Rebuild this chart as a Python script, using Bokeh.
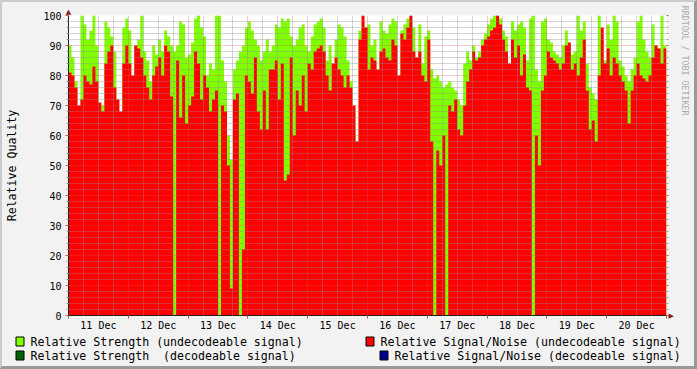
from bokeh.plotting import figure
from bokeh.layouts import column, row
from bokeh.models import FixedTicker, LinearAxis, Range1d, ColumnDataSource
from bokeh.core.properties import value
from bokeh.embed import file_html
from bokeh.resources import INLINE

# ---- data: 200 consolidated samples (72 min each) from 11 Dec 00:00 to 21 Dec 00:00
BIN_HOURS = 1.2

strength = [
    90, 86, 78, 62, 100, 97, 92, 95, 100, 90, 63, 70, 98, 96, 93, 88, 72, 50, 96, 99,
    95, 70, 90, 92, 100, 88, 85, 78, 90, 87, 92, 88, 95,
    93, 90, 88, 90, 98, 97, 86, 87, 91, 99, 100, 96, 93, 80, 84, 82, 100, 100, 85, 78,
    60, 52, 82, 85, 88, 90, 96, 98, 95, 92, 90, 85, 88,
    92, 88, 90, 97, 96, 99, 98, 99, 93, 90, 92, 96, 97, 90, 88, 93, 97, 98, 99, 96,
    85, 90, 72, 92, 97, 96, 93, 85, 78, 62, 57, 95, 98, 96,
    97, 90, 92, 80, 98, 95, 94, 97, 99, 98, 72, 95, 97, 99, 98, 96, 64, 97, 84, 93,
    95, 82, 79, 80, 78, 76, 77, 78, 76, 75, 72, 70, 84,
    88, 85, 90, 86, 88, 92, 94, 97, 99, 100, 100, 99, 95, 93, 78, 98, 95, 97, 98, 96,
    85, 99, 100, 82, 78, 98, 99, 92, 91, 88, 87, 86, 90,
    95, 90, 87, 88, 100, 95, 98, 84, 76, 74, 72, 100, 92, 85, 97, 92, 100, 98, 85, 83,
    80, 78, 82, 86, 98, 100, 92, 88, 86, 97, 90, 89, 100, 90,
]

snr = [
    81, 80, 76, 70, 72, 80, 78, 77, 83, 78, 71, 68, 84, 88, 90, 76, 72, 68, 84, 90,
    84, 80, 90, 89, 86, 80, 76, 72, 80, 83, 86, 80, 90,
    88, 73, 0, 85, 66, 80, 64, 70, 73, 88, 84, 72, 80, 76, 68, 72, 75, 0, 70, 68,
    50, 9, 72, 74, 0, 22, 80, 78, 74, 86, 68, 62, 75,
    62, 82, 82, 85, 72, 84, 45, 47, 86, 60, 75, 70, 80, 68, 84, 82, 88, 89, 90, 88,
    80, 75, 84, 86, 82, 80, 76, 80, 76, 70, 58, 92, 100, 96,
    82, 86, 85, 82, 88, 89, 86, 85, 92, 90, 80, 94, 92, 96, 100, 88, 86, 88, 80, 78,
    92, 58, 0, 55, 50, 60, 0, 70, 68, 72, 62, 60, 70,
    78, 82, 88, 85, 86, 90, 92, 93, 95, 96, 100, 97, 92, 88, 84, 92, 86, 90, 80, 87,
    76, 75, 0, 60, 50, 75, 80, 88, 86, 85, 84, 82, 84,
    90, 91, 82, 84, 80, 86, 92, 75, 62, 65, 58, 80, 96, 84, 89, 80, 86, 84, 80, 78,
    75, 64, 75, 80, 84, 80, 79, 78, 80, 86, 90, 89, 84, 89,
]

day_labels = ["11 Dec", "12 Dec", "13 Dec", "14 Dec", "15 Dec",
              "16 Dec", "17 Dec", "18 Dec", "19 Dec", "20 Dec"]
y_ticks = list(range(0, 101, 10))
y_minor = [v for v in range(0, 101, 2) if v % 10]

legend_labels = ["Relative Strength (undecodeable signal)",
                 "Relative Signal/Noise (undecodeable signal)",
                 "Relative Strength\u00A0 (decodeable signal)",
                 "Relative Signal/Noise (decodeable signal)"]
legend_colors = ["#80FF00", "#FF0000", "#006400", "#000090"]

y_title = "Relative Quality"
watermark = "RRDTOOL / TOBI OETIKER"

FONT = "DejaVu Sans Mono"
BG = "#F2F2F2"
LIGHT = "#CBCBCB"
DARK = "#999999"
INNER_W = 692          # page width minus the 3-D border (2 px left, 3 px right)
MAIN_H = 331
LEG_H = 33

n = len(strength)
x_edges = [i * BIN_HOURS for i in range(n + 1)]
total_hours = n * BIN_HOURS

# ================= main chart =================
p = figure(width=INNER_W, height=MAIN_H, output_backend="svg", toolbar_location=None,
           x_range=Range1d(0, total_hours), y_range=Range1d(0, 100),
           min_border_left=64, min_border_right=28, min_border_top=13, min_border_bottom=18)
p.background_fill_color = "white"
p.border_fill_color = BG
p.outline_line_color = None

zeros = [0] * (n + 1)
p.varea_step(x=x_edges, y1=zeros, y2=strength + [strength[-1]], step_mode="after",
             fill_color=legend_colors[0])
p.varea_step(x=x_edges, y1=zeros, y2=snr + [snr[-1]], step_mode="after",
             fill_color=legend_colors[1])

noons = [12 + 24 * k for k in range(len(day_labels))]
midnights = [24 * k for k in range(len(day_labels) + 1)]

xa = p.xaxis[0]
xa.ticker = FixedTicker(ticks=noons, minor_ticks=midnights)
xa.major_label_overrides = {h: lab for h, lab in zip(noons, day_labels)}
xa.major_tick_line_color = None
xa.major_tick_out = 0
xa.major_tick_in = 0
xa.minor_tick_out = 3
xa.minor_tick_in = 0
xa.minor_tick_line_color = "#B05050"
xa.major_label_standoff = 1

yt = FixedTicker(ticks=y_ticks, minor_ticks=y_minor)
ya = p.yaxis[0]
ya.ticker = yt
ya.major_tick_out = 3
ya.major_tick_in = 0
ya.minor_tick_out = 2
ya.minor_tick_in = 0
ya.major_tick_line_color = "#C06060"
ya.minor_tick_line_color = "#A0A0A0"
ya.major_label_standoff = 4
ya.axis_label = y_title
ya.axis_label_text_font = FONT
ya.axis_label_text_font_size = "11.6px"
ya.axis_label_text_font_style = "normal"
ya.axis_label_text_color = "black"
ya.axis_label_standoff = 21

for ax in (xa, ya):
    ax.axis_line_color = "#1F1F1F"
    ax.major_label_text_font = FONT
    ax.major_label_text_font_size = "10px"
    ax.major_label_text_color = "black"

# right axis: grid-tick stubs, the x-axis arrow head and the vertical watermark
pad = "\u00A0" * 42
ra = LinearAxis(ticker=yt, axis_line_color=None,
                major_tick_out=2, major_tick_in=0, minor_tick_out=2, minor_tick_in=0,
                major_tick_line_color="#C06060", minor_tick_line_color="#A0A0A0",
                major_label_overrides={v: ("\u25B6" if v == 0 else "") for v in y_ticks},
                major_label_text_font="DejaVu Sans", major_label_text_font_size="7px",
                major_label_text_color="#802020", major_label_standoff=0,
                axis_label=watermark + pad, axis_label_text_font=FONT,
                axis_label_text_font_size="8.3px", axis_label_text_font_style="normal",
                axis_label_text_color="#AAAAAA", axis_label_standoff=3)
p.add_layout(ra, "right")

# top axis: only the y-axis arrow head
ta = LinearAxis(ticker=FixedTicker(ticks=[0]), axis_line_color=None,
                major_tick_line_color=None, major_tick_out=0, major_tick_in=0,
                major_label_overrides={0: "\u25B2"},
                major_label_text_font="DejaVu Sans", major_label_text_font_size="7px",
                major_label_text_color="#802020", major_label_standoff=0)
p.add_layout(ta, "above")

# grids drawn over the data, as rrdtool does
p.xgrid.ticker = FixedTicker(ticks=midnights,
                             minor_ticks=[h for h in range(0, 241, 6) if h % 24])
for g in (p.xgrid[0], p.ygrid[0]):
    g.grid_line_color = "#DE4F4F"
    g.grid_line_alpha = 0.6
    g.grid_line_dash = "1 1"
    g.minor_grid_line_color = "#8F8F8F"
    g.minor_grid_line_alpha = 0.75
    g.minor_grid_line_dash = "1 1"
    g.level = "guide"

# ================= legend strip =================
q = figure(width=INNER_W, height=LEG_H, output_backend="svg", toolbar_location=None,
           x_range=Range1d(0, INNER_W), y_range=Range1d(LEG_H, 0),
           x_axis_location=None, y_axis_location=None,
           min_border_left=0, min_border_right=0, min_border_top=0, min_border_bottom=0)
q.background_fill_color = BG
q.border_fill_color = BG
q.outline_line_color = None
q.xgrid.visible = False
q.ygrid.visible = False

box_left = [13.5, 363.5, 13.5, 377.5]
row_top = [3.5, 3.5, 17.5, 17.5]
text_x = [28, 378, 28, 392]
box_src = ColumnDataSource(dict(
    left=box_left, right=[b + 8 for b in box_left],
    top=row_top, bottom=[t + 9 for t in row_top], color=legend_colors))
q.quad(left="left", right="right", top="top", bottom="bottom", source=box_src,
       fill_color="color", line_color="black", line_width=1)
txt_src = ColumnDataSource(dict(x=text_x, y=[t + 5 for t in row_top], text=legend_labels))
q.text(x="x", y="y", text="text", source=txt_src, text_font=value(FONT),
       text_font_size="11.6px", text_baseline="middle", text_align="left",
       text_color="black")

root = column(p, row(q, spacing=0), spacing=0,
              styles={"border-top": f"2px solid {LIGHT}", "border-left": f"2px solid {LIGHT}",
                      "border-right": f"3px solid {DARK}", "border-bottom": f"3px solid {DARK}",
                      "background-color": BG})

open("out.html", "w").write(file_html(root, INLINE))
